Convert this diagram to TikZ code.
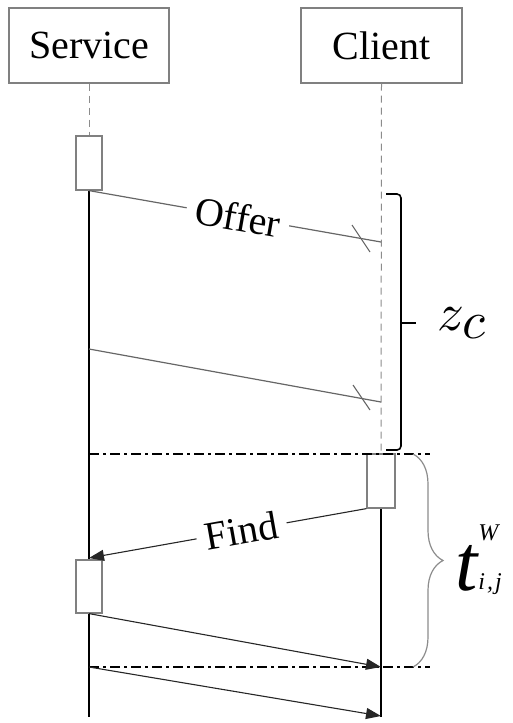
\documentclass[tikz,border=0pt]{standalone}
\usepackage{fontspec}
\setmainfont{Liberation Serif}
\usetikzlibrary{arrows.meta,decorations.pathreplacing}
\tikzset{
  headbox/.style={draw=black!50, line width=1.2pt, minimum width=160pt, minimum height=75pt, inner sep=0pt, font=\fontsize{40}{40}\selectfont},
  actbox/.style={draw=black!50, line width=1.2pt, fill=white, minimum width=26pt, minimum height=54pt, inner sep=0pt},
  lifedash/.style={draw=black!45, line width=1pt, dash pattern=on 7pt off 5pt},
  lifesolid/.style={draw=black, line width=2.8pt},
  msg/.style={draw=black!60, line width=1.2pt},
  callmsg/.style={draw=black!85, line width=1.1pt, -{Triangle[length=15pt,width=11pt]}},
  tick/.style={draw=black!60, line width=1.1pt},
  dashdot/.style={draw=black, line width=2pt, dash pattern=on 10pt off 4pt on 3pt off 4pt},
  msglabel/.style={sloped, fill=white, inner sep=9pt, font=\fontsize{40}{40}\selectfont},
  bracez/.style={draw=black, line width=1.6pt, rounded corners=4pt},
}
\begin{document}
\begin{tikzpicture}[x=1pt,y=-1pt]
\useasboundingbox (0,0) rectangle (512,723);
% heads
\node[headbox] (S) at (89,45.5) {Service};
\node[headbox, minimum width=161pt] (C) at (381.5,45.5) {Client};
% activation boxes
\node[actbox] (a1) at (89,163) {};
\node[actbox, minimum width=28pt] (a2) at (381,481) {};
\node[actbox, minimum height=53pt] (a3) at (89,586.5) {};
% coordinates
\coordinate (sBot) at (89,717);
\coordinate (cBot) at (381,717);
\coordinate (m1e) at (381,242);
\coordinate (m2s) at (89,349);
\coordinate (m2e) at (381,402);
\coordinate (fEnd) at (89,558);
\coordinate (r1e) at (381,667);
\coordinate (r2s) at (89,667);
\coordinate (r2e) at (381,716);
\coordinate (d1s) at (89,454);
\coordinate (d1e) at (430,454);
\coordinate (d2s) at (89,667);
\coordinate (d2e) at (430,667);
\coordinate (b1s) at (386,194);
\coordinate (b1m) at (401,323);
\coordinate (b1t) at (416,323);
\coordinate (b1e) at (386,450);
\coordinate (b2s) at (413,454);
\coordinate (b2e) at (413,667);
% lifelines
\draw[lifedash] (S.south) -- (a1.north);
\draw[lifedash] (C.south) -- (a2.north);
\draw[lifesolid] (a1.south) -- (sBot);
\draw[lifesolid, line width=2.2pt] (a2.south) -- (cBot);
\node[actbox] at (a1) {};
\node[actbox, minimum width=28pt] at (a2) {};
\node[actbox, minimum height=53pt] at (a3) {};
% offer messages
\draw[msg] (a1.south) -- node[msglabel, pos=0.51] {Offer} (m1e);
\draw[tick] (352,225) -- (370,252);
\draw[msg] (m2s) -- (m2e);
\draw[tick] (353,385) -- (370,410);
% dash-dot lines
\draw[dashdot] (d1s) -- (d1e);
\draw[dashdot] (d2s) -- (d2e);
% find and responses
\draw[callmsg] (a2.south west) -- node[msglabel, pos=0.45] {Find} (fEnd);
\draw[callmsg] (a3.south) -- (r1e);
\draw[callmsg] (r2s) -- (r2e);
% braces
\draw[bracez] (b1s) -- (b1s -| b1m) -- (b1m) -- (b1e -| b1m) -- (b1e);
\draw[bracez, line width=2.6pt, rounded corners=0pt] (b1m) -- (b1t);
\draw[black!45, line width=1.2pt, decorate, decoration={brace, amplitude=30pt}] (b2s) -- (b2e);
\node[scale=5.3] (zc) at (463,323) {$z_{\textstyle c}$};
\node[anchor=base west, inner sep=0pt] (tw) at (455,590)
  {{\fontsize{80}{80}\selectfont\itshape t}\kern1pt{\fontsize{24}{24}\selectfont\itshape\rlap{\raisebox{50pt}{W}}\raisebox{1pt}{i\kern2pt,\kern2pt j}}};
\end{tikzpicture}
\end{document}
